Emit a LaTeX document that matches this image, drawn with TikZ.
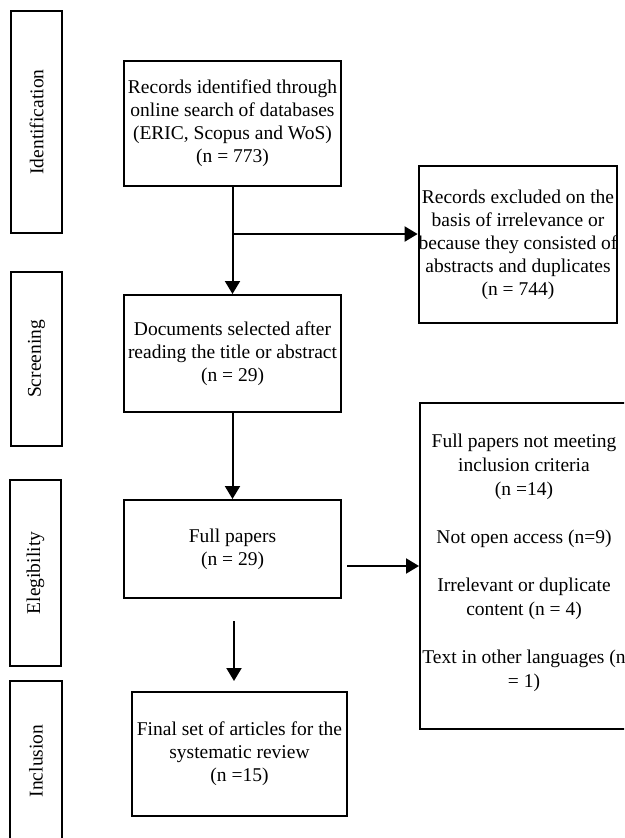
\documentclass[tikz,border=0pt]{standalone}
\usepackage{fontspec}
\setmainfont{Liberation Serif}
\usetikzlibrary{arrows.meta,calc}
\begin{document}
\begin{tikzpicture}[x=1pt,y=-1pt,
  box/.style={draw, line width=2pt, rectangle, inner sep=0pt, align=center,
    font=\fontsize{19.5}{23}\selectfont},
  stage/.style={draw, line width=2pt, rectangle, inner sep=0pt},
  stagetext/.style={rotate=90, font=\fontsize{19.5}{23}\selectfont, inner sep=0pt},
  plain/.style={inner sep=0pt, align=center, font=\fontsize{19.5}{24}\selectfont},
  arr/.style={line width=2pt, -{Triangle[length=13pt,width=15pt]}}]
\useasboundingbox (0,0) rectangle (624,838);
\clip (0,0) rectangle (624,838);
% stage boxes
\node[stage, minimum width=51, minimum height=222] (id) at (36.5,122) {};
\node[stagetext] (idt) at (id.center) {Identification};
\node[stage, minimum width=51, minimum height=174] (sc) at (36.5,359) {};
\node[stagetext] (sct) at (sc.center) {Screening};
\node[stage, minimum width=51, minimum height=186] (el) at (35.5,573) {};
\node[stagetext] (elt) at (el.center) {Elegibility};
\node[stage, minimum width=52, minimum height=160] (in) at (36,761) {};
\node[stagetext] (int) at (in.center) {Inclusion};
% main boxes
\node[box, minimum width=217, minimum height=125] (b1) at (232.5,123.5)
  {Records identified through\\online search of databases\\(ERIC, Scopus and WoS)\\(n = 773)};
\node[box, minimum width=196, minimum height=157] (ex) at (518,244.5)
  {Records excluded on the\\basis of irrelevance or\\because they consisted of\\abstracts and duplicates\\(n = 744)};
\node[box, minimum width=217, minimum height=117] (b2) at (232.5,353.5)
  {Documents selected after\\reading the title or abstract\\(n = 29)};
\node[box, minimum width=217, minimum height=98] (b3) at (232.5,549)
  {Full papers\\(n = 29)};
\node[stage, minimum width=206, minimum height=326] (rb) at (523,566) {};
\node[plain] (rbt) at (524,563)
  {Full papers not meeting\\inclusion criteria\\(n =14)\\[24pt]Not open access (n=9)\\[24pt]Irrelevant or duplicate\\content (n = 4)\\[24pt]Text in other languages (n\\= 1)};
\node[box, minimum width=215, minimum height=124] (b4) at (239.5,754)
  {Final set of articles for the\\systematic review\\(n =15)};
% connectors
\coordinate (br) at ($(b1.south)+(0,47)$);
\draw[arr] (b1.south) -- (b2.north);
\draw[arr] (br) -- (ex.west |- br);
\draw[arr] (b2.south) -- (b3.north);
\coordinate (s3) at ($(b3.east |- rb.west)+(5,0)$);
\draw[arr] (s3) -- (rb.west);
\coordinate (s4) at ($(b3.south)+(1.5,22)$);
\coordinate (e4) at ($(b4.north)+(-5.5,-10)$);
\draw[arr] (s4) -- (e4);
\end{tikzpicture}
\end{document}
